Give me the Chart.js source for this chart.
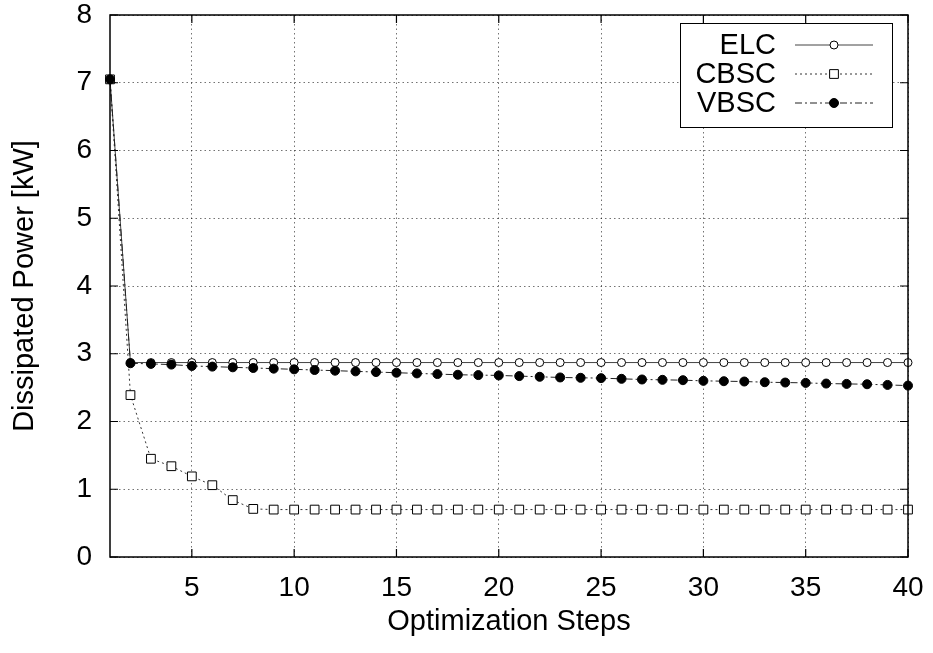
<!DOCTYPE html>
<html>
<head>
<meta charset="utf-8">
<script src="https://cdn.jsdelivr.net/npm/chart.js@4/dist/chart.umd.min.js"></script>
<style>
  html, body { margin: 0; padding: 0; background: #fff; }
  #wrap { width: 933px; height: 653px; }
</style>
</head>
<body>
<div id="wrap"><canvas id="powerChart" width="933" height="653"></canvas></div>
<script>
const steps = Array.from({ length: 40 }, (_, i) => i + 1);

const elc = [7.05, 2.87, 2.87, 2.87, 2.87, 2.87, 2.87, 2.87, 2.87, 2.87,
  2.87, 2.87, 2.87, 2.87, 2.87, 2.87, 2.87, 2.87, 2.87, 2.87,
  2.87, 2.87, 2.87, 2.87, 2.87, 2.87, 2.87, 2.87, 2.87, 2.87,
  2.87, 2.87, 2.87, 2.87, 2.87, 2.87, 2.87, 2.87, 2.87, 2.87];

const cbsc = [7.05, 2.39, 1.45, 1.34, 1.19, 1.06, 0.84, 0.71, 0.70, 0.70,
  0.70, 0.70, 0.70, 0.70, 0.70, 0.70, 0.70, 0.70, 0.70, 0.70,
  0.70, 0.70, 0.70, 0.70, 0.70, 0.70, 0.70, 0.70, 0.70, 0.70,
  0.70, 0.70, 0.70, 0.70, 0.70, 0.70, 0.70, 0.70, 0.70, 0.70];

const vbsc = [7.05, 2.86, 2.85, 2.84, 2.82, 2.81, 2.80, 2.79, 2.78, 2.77,
  2.76, 2.75, 2.74, 2.73, 2.72, 2.71, 2.70, 2.69, 2.685, 2.68,
  2.67, 2.66, 2.65, 2.645, 2.64, 2.63, 2.62, 2.615, 2.61, 2.60,
  2.595, 2.59, 2.58, 2.575, 2.57, 2.56, 2.555, 2.55, 2.54, 2.53];

const xTicks = [5, 10, 15, 20, 25, 30, 35, 40];
const yTicks = [0, 1, 2, 3, 4, 5, 6, 7, 8];

const FONT = 'Liberation Sans, Arial, Helvetica, sans-serif';
const toPoints = (vals) => vals.map((v, i) => ({ x: steps[i], y: v }));

// gnuplot-style frame, inward tick marks and the legend box
const framePlugin = {
  id: 'frame',
  afterDatasetsDraw(chart) {
    const { ctx, chartArea: a, scales } = chart;
    ctx.save();
    ctx.strokeStyle = '#000';
    ctx.lineWidth = 1.5;
    ctx.strokeRect(a.left, a.top, a.right - a.left, a.bottom - a.top);
    ctx.lineWidth = 1.2;
    const tl = 8;
    ctx.beginPath();
    xTicks.forEach((v) => {
      const px = scales.x.getPixelForValue(v);
      ctx.moveTo(px, a.bottom); ctx.lineTo(px, a.bottom - tl);
      ctx.moveTo(px, a.top); ctx.lineTo(px, a.top + tl);
    });
    yTicks.forEach((v) => {
      const py = scales.y.getPixelForValue(v);
      ctx.moveTo(a.left, py); ctx.lineTo(a.left + tl, py);
      ctx.moveTo(a.right, py); ctx.lineTo(a.right - tl, py);
    });
    ctx.stroke();
    ctx.restore();
  },
  afterDraw(chart) {
    const { ctx } = chart;
    const box = { x: 680, y: 23, w: 212, h: 104 };
    ctx.save();
    ctx.fillStyle = '#fff';
    ctx.fillRect(box.x, box.y, box.w, box.h);
    ctx.strokeStyle = '#000';
    ctx.lineWidth = 1;
    ctx.strokeRect(box.x + 0.5, box.y + 0.5, box.w, box.h);
    ctx.font = '29px ' + FONT;
    ctx.textAlign = 'right';
    ctx.textBaseline = 'middle';
    [0, 1, 2].forEach((idx, r) => {
      const ds = chart.data.datasets[idx];
      const cy = 45 + r * 29;
      ctx.fillStyle = '#000';
      ctx.fillText(ds.label, 776, cy + 1);
      ctx.strokeStyle = ds.borderColor;
      ctx.lineWidth = ds.borderWidth;
      ctx.setLineDash(ds.borderDash || []);
      ctx.beginPath();
      ctx.moveTo(795, cy); ctx.lineTo(873, cy);
      ctx.stroke();
      ctx.setLineDash([]);
      ctx.fillStyle = ds.pointBackgroundColor;
      ctx.strokeStyle = ds.pointBorderColor;
      ctx.lineWidth = 1;
      ctx.beginPath();
      if (ds.pointStyle === 'rect') {
        const s = ds.pointRadius * Math.SQRT1_2;
        ctx.rect(834 - s, cy - s, 2 * s, 2 * s);
      } else {
        ctx.arc(834, cy, ds.pointRadius, 0, Math.PI * 2);
      }
      ctx.fill();
      ctx.stroke();
    });
    ctx.restore();
  }
};

new Chart(document.getElementById('powerChart'), {
  type: 'line',
  data: {
    datasets: [
      {
        label: 'ELC',
        data: toPoints(elc),
        borderColor: '#444',
        borderWidth: 1,
        pointStyle: 'circle',
        pointRadius: 4,
        pointBackgroundColor: '#fff',
        pointBorderColor: '#000',
        pointBorderWidth: 1,
        order: 2
      },
      {
        label: 'CBSC',
        data: toPoints(cbsc),
        borderColor: '#333',
        borderWidth: 1,
        borderDash: [2, 3],
        pointStyle: 'rect',
        pointRadius: 6.2,
        pointBackgroundColor: '#fff',
        pointBorderColor: '#000',
        pointBorderWidth: 1,
        order: 1
      },
      {
        label: 'VBSC',
        data: toPoints(vbsc),
        borderColor: '#222',
        borderWidth: 1,
        borderDash: [7, 3, 2, 3],
        pointStyle: 'circle',
        pointRadius: 4.5,
        pointBackgroundColor: '#000',
        pointBorderColor: '#000',
        pointBorderWidth: 1,
        order: 0
      }
    ]
  },
  options: {
    responsive: false,
    animation: false,
    clip: false,
    layout: { padding: { left: 0, right: 25, top: 15, bottom: 0 } },
    plugins: {
      legend: { display: false },
      tooltip: { enabled: false }
    },
    scales: {
      x: {
        type: 'linear',
        min: 1,
        max: 40,
        afterBuildTicks: (s) => { s.ticks = xTicks.map((v) => ({ value: v })); },
        afterFit: (s) => { s.height = 96; s.paddingLeft = 0; s.paddingRight = 0; },
        grid: { color: 'rgba(0,0,0,0.55)', lineWidth: 1, drawTicks: false },
        border: { display: false, dash: [1.5, 3] },
        ticks: { color: '#000', font: { family: FONT, size: 28 }, padding: 14, maxRotation: 0, autoSkip: false },
        title: {
          display: true,
          text: 'Optimization Steps',
          color: '#000',
          font: { family: FONT, size: 29, lineHeight: 1 },
          padding: { top: 0, bottom: 17 }
        }
      },
      y: {
        min: 0,
        max: 8,
        afterBuildTicks: (s) => { s.ticks = yTicks.map((v) => ({ value: v })); },
        afterFit: (s) => { s.width = 110; s.paddingTop = 0; s.paddingBottom = 0; },
        grid: { color: 'rgba(0,0,0,0.55)', lineWidth: 1, drawTicks: false },
        border: { display: false, dash: [1.5, 3] },
        ticks: { color: '#000', font: { family: FONT, size: 28, lineHeight: 1 }, padding: 18 },
        title: {
          display: true,
          text: 'Dissipated Power [kW]',
          color: '#000',
          font: { family: FONT, size: 29, lineHeight: 1 },
          padding: { top: 10, bottom: 0 }
        }
      }
    }
  },
  plugins: [framePlugin]
});
</script>
</body>
</html>
